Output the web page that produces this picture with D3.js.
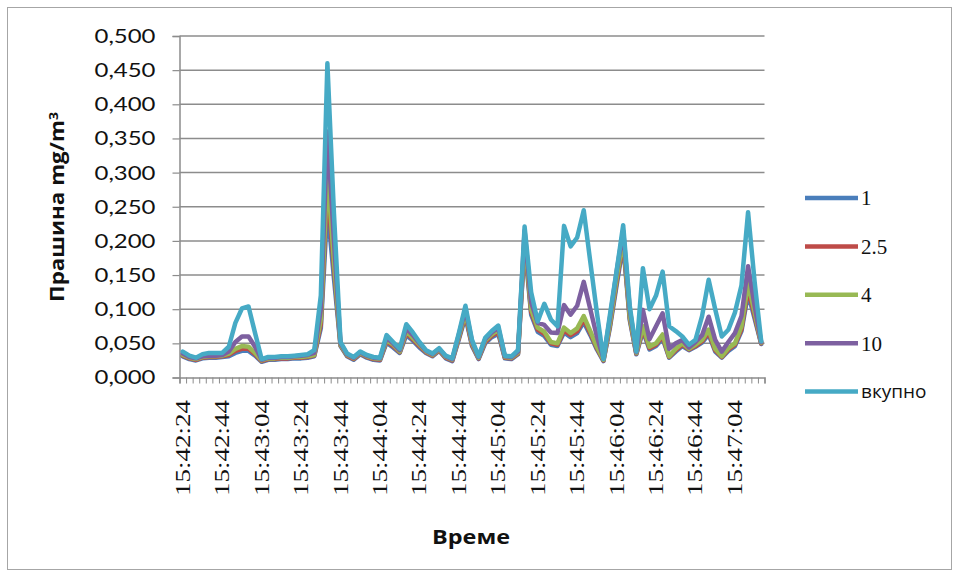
<!DOCTYPE html>
<html>
<head>
<meta charset="utf-8">
<script src="https://cdn.jsdelivr.net/npm/d3@7"></script>
<style>
  body { margin: 0; background: #fff; }
  svg { display: block; }
</style>
</head>
<body>
<div id="chart"></div>
<script>
var svgWidth = 959;
var svgHeight = 577;

// every 6th category carries a time label
var tickLabels = ["15:42:24", "15:42:44", "15:43:04", "15:43:24", "15:43:44", "15:44:04", "15:44:24",
  "15:44:44", "15:45:04", "15:45:24", "15:45:44", "15:46:04", "15:46:24", "15:46:44", "15:47:04"];
var labelEvery = 6;

var yTicks = [0, 0.05, 0.1, 0.15, 0.2, 0.25, 0.3, 0.35, 0.4, 0.45, 0.5];

var seriesNames = ["1", "2.5", "4", "10", "вкупно"];
var seriesColors = ["#4a7ebb", "#be4b48", "#98b954", "#7d60a0", "#46aac5"];

var pm1 = [.031, .027, .025, .028, .029, .029, .030, .031, .036, .039, .039, .032, .023, .026, .026, .027, .027, .028, .028, .029,
  .031, .072, .250, .145, .046, .031, .026, .034, .029, .026, .025, .051, .044, .036, .062, .054, .044, .036, .031, .039,
  .028, .024, .056, .089, .046, .027, .050, .059, .064, .028, .027, .034, .195, .092, .067, .061, .048, .046, .066, .059,
  .065, .081, .062, .041, .024, .074, .135, .195, .084, .034, .068, .041, .046, .057, .029, .038, .046, .040, .045, .051,
  .063, .038, .029, .039, .046, .068, .123, .086, .049];

var pm25 = [.032, .028, .026, .029, .030, .030, .031, .033, .039, .042, .042, .034, .024, .027, .027, .028, .028, .029, .029, .030,
  .032, .078, .280, .160, .047, .032, .027, .035, .030, .027, .026, .053, .046, .037, .065, .056, .046, .037, .032, .040,
  .029, .025, .058, .092, .048, .028, .052, .061, .067, .029, .028, .035, .200, .096, .070, .064, .050, .048, .069, .062,
  .068, .085, .065, .043, .025, .077, .140, .200, .087, .035, .071, .043, .048, .060, .030, .040, .048, .041, .046, .053,
  .066, .040, .030, .041, .048, .071, .130, .090, .050];

var pm4 = [.033, .029, .027, .030, .031, .031, .032, .035, .042, .046, .045, .036, .025, .028, .028, .029, .029, .030, .030, .031,
  .033, .085, .300, .170, .048, .033, .028, .036, .031, .028, .027, .055, .048, .038, .068, .058, .048, .038, .033, .041,
  .030, .026, .060, .095, .050, .029, .054, .063, .070, .030, .029, .036, .205, .100, .073, .067, .052, .050, .073, .065,
  .072, .090, .068, .045, .026, .080, .145, .205, .090, .036, .075, .045, .050, .063, .031, .042, .050, .042, .048, .055,
  .070, .042, .031, .043, .050, .075, .138, .095, .051];

var pm10 = [.035, .030, .028, .031, .032, .032, .033, .038, .052, .060, .060, .045, .026, .029, .029, .030, .030, .031, .032, .033,
  .036, .100, .360, .200, .050, .034, .029, .037, .032, .029, .028, .058, .050, .040, .072, .062, .050, .039, .034, .042,
  .031, .027, .063, .100, .053, .030, .056, .066, .073, .031, .030, .038, .215, .110, .080, .077, .066, .065, .106, .092,
  .105, .140, .100, .060, .028, .088, .155, .215, .100, .037, .099, .056, .075, .094, .042, .050, .055, .044, .052, .062,
  .089, .055, .038, .052, .065, .090, .163, .105, .052];

var total = [.038, .032, .029, .034, .036, .036, .036, .045, .080, .101, .104, .065, .027, .030, .030, .031, .031, .032, .033, .034,
  .040, .120, .460, .240, .052, .035, .030, .038, .033, .030, .029, .062, .052, .042, .078, .066, .052, .040, .035, .043,
  .032, .028, .065, .105, .055, .031, .058, .068, .076, .032, .031, .040, .221, .125, .082, .108, .085, .075, .222, .192,
  .205, .245, .169, .095, .027, .093, .156, .223, .105, .038, .160, .100, .120, .155, .075, .068, .060, .048, .055, .090,
  .143, .100, .060, .070, .095, .135, .242, .140, .053];

var seriesValues = [pm1, pm25, pm4, pm10, total];

var plot = { left: 179.5, right: 764.5, top: 36, bottom: 377.5 };

var svg = d3.select("#chart")
  .append("svg")
  .attr("width", svgWidth)
  .attr("height", svgHeight);

// outer chart border
svg.append("rect")
  .attr("x", 7.5).attr("y", 7.5)
  .attr("width", 944).attr("height", 562)
  .attr("fill", "#fff")
  .attr("stroke", "#a6a6a6");

var categories = d3.range(total.length);

var xScale = d3.scaleBand()
  .domain(categories)
  .range([plot.left, plot.right])
  .padding(0);

// edges of the categories, for the tick marks
var xEdge = d3.scaleLinear()
  .domain([0, categories.length])
  .range([plot.left, plot.right]);

var yScale = d3.scaleLinear()
  .domain([0, 0.5])
  .range([plot.bottom, plot.top]);

var gridColor = "#8c8c8c";

// horizontal gridlines
svg.append("g")
  .selectAll("line")
  .data(yTicks.filter(d => d > 0))
  .enter()
  .append("line")
  .attr("x1", plot.left)
  .attr("x2", plot.right)
  .attr("y1", d => yScale(d))
  .attr("y2", d => yScale(d))
  .attr("stroke", gridColor)
  .attr("stroke-width", 1.5);

// y axis
var leftAxis = d3.axisLeft(yScale)
  .tickValues(yTicks)
  .tickSize(7)
  .tickPadding(17)
  .tickFormat(d => d3.format(".3f")(d).replace(".", ","));

var yAxisG = svg.append("g")
  .attr("transform", `translate(${plot.left}, 0)`)
  .call(leftAxis);
yAxisG.select(".domain").attr("stroke", gridColor).attr("stroke-width", 1.5);
yAxisG.selectAll(".tick line").attr("stroke", gridColor).attr("stroke-width", 1.2);
yAxisG.selectAll(".tick text")
  .attr("font-family", "Lato, 'Open Sans', sans-serif")
  .attr("font-size", 20)
  .attr("fill", "#111")
  .attr("textLength", 61)
  .attr("lengthAdjust", "spacingAndGlyphs");

// x axis: tick marks at category edges
var bottomAxis = d3.axisBottom(xEdge)
  .tickValues(d3.range(categories.length + 1))
  .tickSize(6)
  .tickFormat("");

var xAxisG = svg.append("g")
  .attr("transform", `translate(0, ${plot.bottom})`)
  .call(bottomAxis);
xAxisG.select(".domain").attr("stroke", gridColor).attr("stroke-width", 1.5);
xAxisG.selectAll(".tick line").attr("stroke", gridColor).attr("stroke-width", 1);

// rotated time labels
svg.append("g")
  .selectAll("text")
  .data(tickLabels)
  .enter()
  .append("text")
  .attr("transform", (d, i) => `translate(${xScale(i * labelEvery) + xScale.bandwidth() / 2}, 400) rotate(-90)`)
  .attr("dy", "0.35em")
  .attr("text-anchor", "end")
  .attr("font-family", "'Liberation Serif', serif")
  .attr("font-size", 20)
  .attr("fill", "#111")
  .attr("textLength", 96)
  .attr("lengthAdjust", "spacingAndGlyphs")
  .text(d => d);

// lines
var line = d3.line()
  .x((d, i) => xScale(i) + xScale.bandwidth() / 2)
  .y(d => yScale(d));

svg.append("g")
  .selectAll("path")
  .data(seriesValues)
  .enter()
  .append("path")
  .attr("d", d => line(d))
  .attr("fill", "none")
  .attr("stroke", (d, i) => seriesColors[i])
  .attr("stroke-width", 4.5)
  .attr("stroke-linejoin", "round")
  .attr("stroke-linecap", "round");

// axis titles
var yTitle = svg.append("text")
  .attr("transform", "translate(57, 207) rotate(-90)")
  .attr("dy", "0.35em")
  .attr("text-anchor", "middle")
  .attr("font-family", "'Open Sans', sans-serif")
  .attr("font-weight", "bold")
  .attr("font-size", 19)
  .attr("fill", "#111")
  .attr("textLength", 190)
  .attr("lengthAdjust", "spacingAndGlyphs");
yTitle.append("tspan").text("Прашина mg/m");
yTitle.append("tspan").attr("dy", "-0.45em").attr("font-size", 12).text("3");

svg.append("text")
  .attr("x", 471)
  .attr("y", 544)
  .attr("text-anchor", "middle")
  .attr("font-family", "'Open Sans', sans-serif")
  .attr("font-weight", "bold")
  .attr("font-size", 20)
  .attr("fill", "#111")
  .attr("textLength", 78)
  .attr("lengthAdjust", "spacingAndGlyphs")
  .text("Време");

// legend
var legend = svg.append("g")
  .selectAll("g")
  .data(seriesNames)
  .enter()
  .append("g")
  .attr("transform", (d, i) => `translate(805, ${198 + i * 48.4})`);

legend.append("line")
  .attr("x1", 0).attr("x2", 53)
  .attr("y1", 0).attr("y2", 0)
  .attr("stroke", (d, i) => seriesColors[i])
  .attr("stroke-width", 4.5);

legend.append("text")
  .attr("x", 56)
  .attr("dy", "0.35em")
  .attr("font-family", d => /^[0-9.]+$/.test(d) ? "'Liberation Serif', serif" : "'Open Sans', sans-serif")
  .attr("font-size", d => /^[0-9.]+$/.test(d) ? 21 : 19)
  .attr("fill", "#111")
  .text(d => d);
</script>
</body>
</html>
